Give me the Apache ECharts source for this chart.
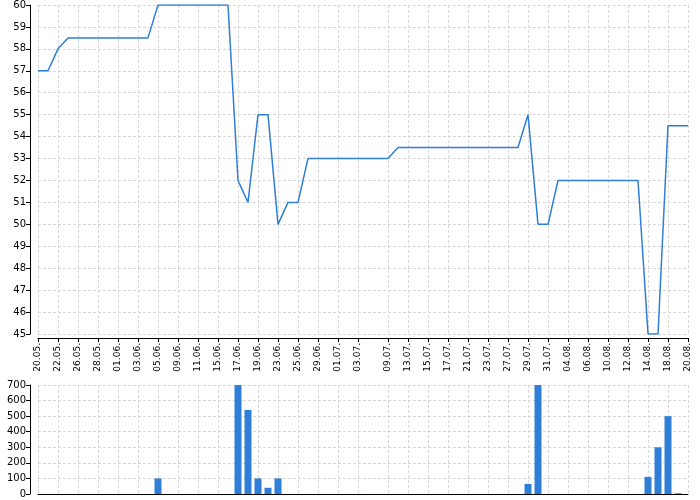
<!DOCTYPE html>
<html>
<head>
<meta charset="utf-8">
<script src="https://cdn.jsdelivr.net/npm/echarts@6/dist/echarts.min.js"></script>
<style>
html,body{margin:0;padding:0;background:#fff;}
#chart{width:700px;height:500px;}
</style>
</head>
<body>
<div id="chart"></div>
<script>
const dates = [
  '20.05.','21.05.','22.05.','24.05.','26.05.','27.05.','28.05.','30.05.','01.06.','02.06.',
  '03.06.','04.06.','05.06.','07.06.','09.06.','10.06.','11.06.','13.06.','15.06.','16.06.',
  '17.06.','18.06.','19.06.','21.06.','23.06.','24.06.','25.06.','27.06.','29.06.','30.06.',
  '01.07.','02.07.','03.07.','05.07.','07.07.','09.07.','11.07.','13.07.','14.07.','15.07.',
  '16.07.','17.07.','19.07.','21.07.','22.07.','23.07.','25.07.','27.07.','28.07.','29.07.',
  '30.07.','31.07.','02.08.','04.08.','05.08.','06.08.','08.08.','10.08.','11.08.','12.08.',
  '13.08.','14.08.','16.08.','18.08.','19.08.','20.08.'
];
const lineValues = [
  57, 57, 58, 58.5, 58.5, 58.5, 58.5, 58.5, 58.5, 58.5,
  58.5, 58.5, 60, 60, 60, 60, 60, 60, 60, 60,
  52, 51, 55, 55, 50, 51, 51, 53, 53, 53,
  53, 53, 53, 53, 53, 53, 53.5, 53.5, 53.5, 53.5,
  53.5, 53.5, 53.5, 53.5, 53.5, 53.5, 53.5, 53.5, 53.5, 55,
  50, 50, 52, 52, 52, 52, 52, 52, 52, 52,
  52, 45, 45, 54.5, 54.5, 54.5
];
const barValues = [
  0, 0, 0, 0, 0, 0, 0, 0, 0, 0,
  0, 0, 100, 0, 0, 0, 0, 0, 0, 0,
  700, 540, 100, 40, 100, 0, 0, 0, 0, 0,
  0, 0, 0, 0, 0, 0, 0, 0, 0, 0,
  0, 0, 0, 0, 0, 0, 0, 0, 0, 65,
  700, 0, 0, 0, 0, 0, 0, 0, 0, 0,
  0, 110, 300, 500, 5, 0
];
const topTicks = [45, 60, 1];
const bottomTicks = [0, 700, 100];

function shown(i) {
  return i <= 32 ? i % 2 === 0 : (i >= 35 && i % 2 === 1);
}
const FONT = 'DejaVu Sans';
const gridLine = { show: true, lineStyle: { color: '#d8d8d8', type: [3, 2], width: 1 } };
const axisLineStyle = { show: true, lineStyle: { color: '#000', width: 1 } };

const chart = echarts.init(document.getElementById('chart'), null, { renderer: 'canvas' });
chart.setOption({
  animation: false,
  backgroundColor: '#fff',
  textStyle: { fontFamily: FONT },
  grid: [
    { left: 38, right: 12, top: 5, height: 329 },
    { left: 38, right: 12, top: 385, height: 109 }
  ],
  xAxis: [
    {
      type: 'category', gridIndex: 0, data: dates, boundaryGap: false, offset: 4,
      axisLine: axisLineStyle,
      axisTick: { show: true, length: 4, interval: shown, lineStyle: { color: '#000' } },
      axisLabel: { interval: shown, rotate: 90, fontSize: 9, color: '#000', fontFamily: FONT, margin: 5 },
      splitLine: Object.assign({ interval: shown }, gridLine)
    },
    {
      type: 'category', gridIndex: 1, data: dates, boundaryGap: false,
      axisLine: axisLineStyle,
      axisTick: { show: false },
      axisLabel: { show: false },
      splitLine: Object.assign({ interval: shown }, gridLine)
    }
  ],
  yAxis: [
    {
      type: 'value', gridIndex: 0, min: topTicks[0], max: topTicks[1], interval: topTicks[2], offset: 8,
      axisLine: axisLineStyle,
      axisTick: { show: true, length: 4, lineStyle: { color: '#000' } },
      axisLabel: { fontSize: 10, color: '#000', fontFamily: FONT, margin: 4 },
      splitLine: gridLine
    },
    {
      type: 'value', gridIndex: 1, min: bottomTicks[0], max: bottomTicks[1], interval: bottomTicks[2], offset: 8,
      axisLine: axisLineStyle,
      axisTick: { show: true, length: 4, lineStyle: { color: '#000' } },
      axisLabel: { fontSize: 10, color: '#000', fontFamily: FONT, margin: 4 },
      splitLine: gridLine
    }
  ],
  series: [
    {
      type: 'line', xAxisIndex: 0, yAxisIndex: 0, data: lineValues,
      showSymbol: false, symbol: 'none',
      lineStyle: { color: '#2f7ed8', width: 1.5 },
      itemStyle: { color: '#2f7ed8' }
    },
    {
      type: 'bar', xAxisIndex: 1, yAxisIndex: 1, data: barValues,
      barWidth: 7,
      itemStyle: { color: '#2f7ed8', borderWidth: 0 }
    }
  ]
});
</script>
</body>
</html>
